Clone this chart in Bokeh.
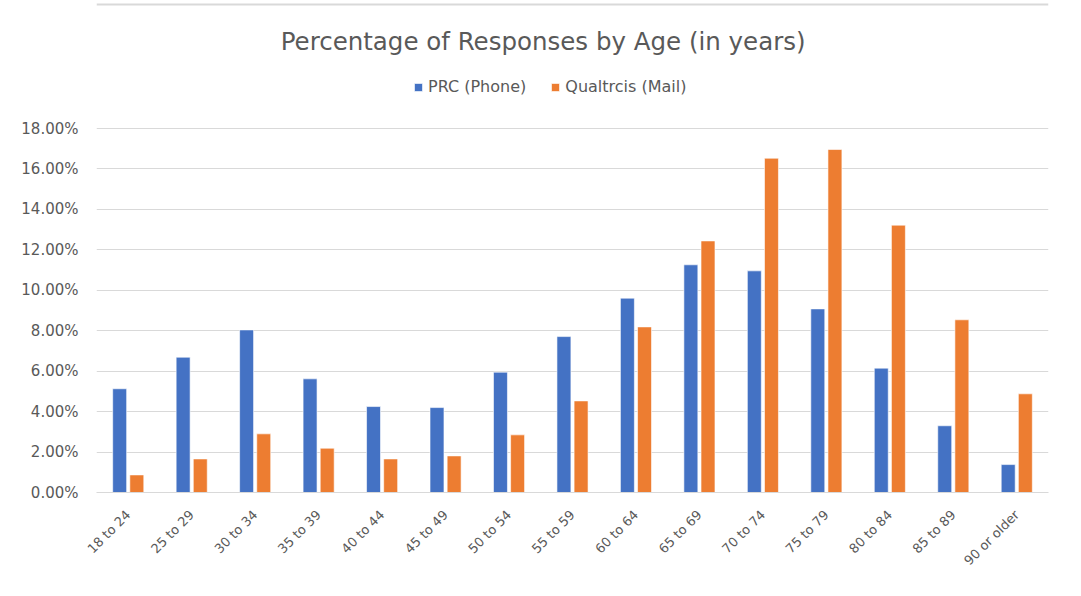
from bokeh.plotting import figure
from bokeh.models import (ColumnDataSource, FactorRange, Range1d, FixedTicker, NumeralTickFormatter,
                          Legend, LegendItem, Label, Span)
from bokeh.transform import dodge
from bokeh.embed import file_html
from bokeh.resources import INLINE
import math

categories = ["18 to 24", "25 to 29", "30 to 34", "35 to 39", "40 to 44", "45 to 49",
              "50 to 54", "55 to 59", "60 to 64", "65 to 69", "70 to 74", "75 to 79",
              "80 to 84", "85 to 89", "90 or older"]
prc_phone = [0.0513, 0.0669, 0.0804, 0.0562, 0.0425, 0.0420, 0.0595, 0.0771,
             0.0961, 0.1126, 0.1096, 0.0908, 0.0615, 0.0330, 0.0138]
qualtrics_mail = [0.0087, 0.0166, 0.0290, 0.0219, 0.0166, 0.0181, 0.0285, 0.0453,
                  0.0819, 0.1244, 0.1653, 0.1696, 0.1322, 0.0854, 0.0488]
y_ticks = [0.0, 0.02, 0.04, 0.06, 0.08, 0.10, 0.12, 0.14, 0.16, 0.18]
series_names = ["PRC (Phone)", "Qualtrcis (Mail)"]
series_colors = ["#4472C4", "#ED7D31"]
title_text = "Percentage of Responses  by Age (in years)"

FONT = "DejaVu Sans"
GRAY = "#595959"
W, H = 1081, 596
BORDER_L, BORDER_R, BORDER_B = 96, 33, 104
GRID_TOP_PX = 128               # pixel row of the 18% gridline
FRAME_H = H - BORDER_B          # frame runs from the top of the canvas
Y_MAX = y_ticks[-1] * FRAME_H / (FRAME_H - GRID_TOP_PX)   # headroom for title + legend

src = ColumnDataSource(data=dict(cat=categories, prc=prc_phone, qm=qualtrics_mail))

p = figure(width=W, height=H, x_range=FactorRange(*categories), y_range=Range1d(0, Y_MAX),
           output_backend="svg", toolbar_location=None,
           min_border_left=BORDER_L, min_border_right=BORDER_R, min_border_top=0,
           min_border_bottom=BORDER_B)

r1 = p.vbar(x=dodge("cat", -0.135, range=p.x_range), top="prc", width=0.22, source=src,
            fill_color=series_colors[0], line_color="white", line_width=0.6)
r2 = p.vbar(x=dodge("cat", 0.135, range=p.x_range), top="qm", width=0.22, source=src,
            fill_color=series_colors[1], line_color="white", line_width=0.6)

# faint chart-area border along the top
p.add_layout(Span(location=FRAME_H - 4, location_units="screen", dimension="width",
                  line_color="#d9d9d9", line_width=2))

# title (screen units are measured from the frame's bottom-left corner)
p.add_layout(Label(x=546.5 - BORDER_L, y=FRAME_H - 41, x_units="screen", y_units="screen",
                   text=title_text, text_align="center", text_baseline="middle",
                   text_font=FONT, text_font_size="24.5px", text_color=GRAY))

legend = Legend(items=[LegendItem(label=series_names[0], renderers=[r1]),
                       LegendItem(label=series_names[1], renderers=[r2])],
                orientation="horizontal", location=(413 - BORDER_L, FRAME_H - 96),
                label_text_font=FONT, label_text_font_size="16px", label_text_color=GRAY,
                glyph_width=10, glyph_height=10, spacing=24, label_standoff=5,
                border_line_color=None, background_fill_alpha=0, margin=0, padding=0)
p.add_layout(legend, "center")

p.yaxis.ticker = FixedTicker(ticks=y_ticks)
p.yaxis.formatter = NumeralTickFormatter(format="0.00%")
p.yaxis.axis_line_color = None
p.yaxis.major_tick_line_color = None
p.yaxis.minor_tick_line_color = None
p.yaxis.major_label_text_font = FONT
p.yaxis.major_label_text_font_size = "15px"
p.yaxis.major_label_text_color = GRAY
p.yaxis.major_label_standoff = 12

p.xaxis.axis_line_color = "#d9d9d9"
p.xaxis.major_tick_line_color = None
p.xaxis.minor_tick_line_color = None
p.xaxis.major_label_orientation = math.pi / 4
p.xaxis.major_label_text_font = FONT
p.xaxis.major_label_text_font_size = "13px"
p.xaxis.major_label_text_color = GRAY
p.xaxis.major_label_standoff = 14

p.xgrid.grid_line_color = None
p.ygrid.grid_line_color = "#d9d9d9"
p.ygrid.grid_line_width = 1
p.ygrid.ticker = FixedTicker(ticks=y_ticks)
p.outline_line_color = None
p.x_range.range_padding = 0

open("out.html", "w").write(file_html(p, INLINE))
